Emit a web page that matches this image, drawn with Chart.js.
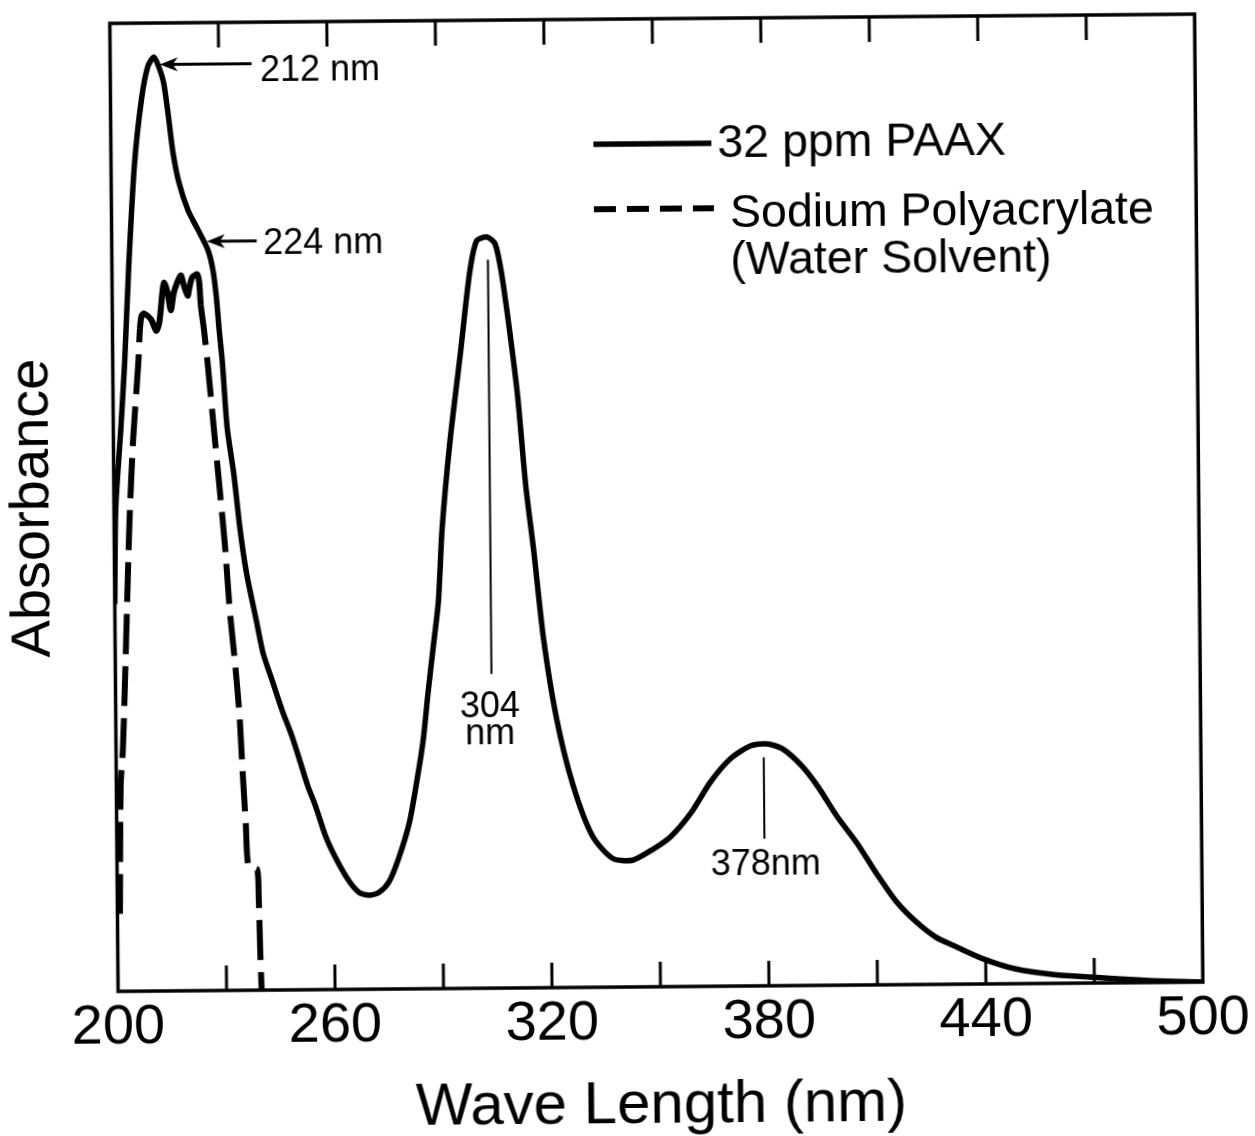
<!DOCTYPE html>
<html>
<head>
<meta charset="utf-8">
<script src="https://cdn.jsdelivr.net/npm/chart.js@4.4.1/dist/chart.umd.min.js"></script>
<style>
  html, body { margin: 0; padding: 0; background: #ffffff; overflow: hidden; }
  #wrap { width: 1255px; height: 1136px; transform: rotate(-0.49deg); transform-origin: 50% 50%; }
  canvas { display: block; }
</style>
</head>
<body>
<div id="wrap"><canvas id="c" width="1255" height="1136"></canvas></div>
<script>
// ---------------- data ----------------
const seriesNames = ['32 ppm PAAX', 'Sodium Polyacrylate', '(Water Solvent)'];

const paaxWavelength = [
  200.0, 200.5, 202.1, 203.3, 204.7, 206.5, 208.6, 210.4, 212.1, 213.3, 214.7, 215.9, 217.2, 218.8,
  221.2, 223.9, 226.6, 227.9, 228.8, 229.5, 230.3, 231.5, 233.2, 234.8, 236.5, 239.1, 240.9,
  243.5, 246.2, 248.5, 250.7, 252.9, 255.1, 257.8, 260.6, 264.1, 266.9, 269.6, 272.4, 275.2,
  277.9, 280.9, 282.9, 284.9, 286.4, 288.0, 289.5, 290.7, 293.1, 296.2, 298.9, 300.9, 303.7,
  306.0, 307.7, 309.8, 311.9, 313.9, 316.0, 318.5, 321.9, 326.3, 331.6, 337.1, 342.6, 348.2,
  353.2, 358.8, 364.3, 369.9, 375.4, 379.8, 384.2, 389.6, 393.9, 399.3, 404.8, 410.2, 415.4,
  420.8, 426.2, 431.7, 439.3, 448.0, 458.9, 469.9, 480.8, 491.7, 500.0
];
const paaxAbsorbance = [
  0.400, 0.500, 0.582, 0.650, 0.752, 0.855, 0.922, 0.955, 0.965, 0.956, 0.939, 0.906, 0.865, 0.834,
  0.806, 0.786, 0.765, 0.745, 0.717, 0.683, 0.650, 0.581, 0.534, 0.477, 0.431, 0.382, 0.348,
  0.318, 0.287, 0.264, 0.238, 0.211, 0.189, 0.158, 0.135, 0.112, 0.100, 0.097, 0.100, 0.111,
  0.135, 0.171, 0.210, 0.255, 0.305, 0.354, 0.400, 0.475, 0.566, 0.657, 0.739, 0.772, 0.776,
  0.769, 0.739, 0.680, 0.611, 0.520, 0.451, 0.360, 0.278, 0.209, 0.156, 0.133, 0.131, 0.142,
  0.155, 0.179, 0.211, 0.235, 0.248, 0.250, 0.245, 0.227, 0.206, 0.174, 0.146, 0.114, 0.086,
  0.065, 0.049, 0.039, 0.026, 0.0155, 0.009, 0.006, 0.003, 0.001, 0.000
];

const polyacrylateWavelength = [
  200.7, 201.2, 201.9, 202.7, 203.8, 204.4, 205.5, 207.1, 207.6, 208.1, 208.8, 210.7, 212.1,
  213.0, 213.9, 214.4, 215.3, 216.2, 217.1, 219.0, 219.9, 220.9, 221.3, 222.2, 223.6, 224.1,
  224.5, 225.3, 226.2, 227.8, 229.4, 230.6, 231.8, 233.0, 234.2, 234.9, 235.7, 236.4, 238.7,
  239.1, 239.4, 239.7
];
const polyacrylateAbsorbance = [
  0.080, 0.213, 0.250, 0.326, 0.441, 0.497, 0.572, 0.650, 0.684, 0.698, 0.700, 0.694, 0.682,
  0.691, 0.722, 0.732, 0.722, 0.703, 0.722, 0.739, 0.728, 0.718, 0.725, 0.737, 0.740, 0.732,
  0.708, 0.683, 0.650, 0.581, 0.513, 0.460, 0.392, 0.343, 0.286, 0.230, 0.173, 0.127, 0.125,
  0.098, 0.041, 0.000
];

const xTickLabels = [200, 260, 320, 380, 440, 500];
const xTickMarks = [230, 260, 290, 320, 350, 380, 410, 440, 470];

// wavelength range where the sodium polyacrylate trace is a continuous squiggle
const squiggleRange = [207.5, 224.6];

// peak annotations (wavelength, absorbance)
const arrowNotes = [
  { text: '212 nm', tip: [213.7, 0.957], tail: [239.1, 0.957], label: [241.4, 0.9386] },
  { text: '224 nm', tip: [226.3, 0.774], tail: [240.1, 0.774], label: [241.9, 0.760] }
];
const stemNotes = [
  { lines: ['304', 'nm'], x: 304.0, from: 0.7525, to: 0.3247, labelX: 303.5, baselines: [0.2798, 0.2516] },
  { lines: ['378nm'], x: 379.1, from: 0.236, to: 0.152, labelX: 379.4, baselines: [0.1145] }
];

// ---------------- chart ----------------
const FONT = "'Liberation Sans', Arial, sans-serif";

const decorPlugin = {
  id: 'decor',
  afterDatasetsDraw(chart) {
    const { ctx, chartArea: ca, scales: { x, y } } = chart;
    ctx.save();
    ctx.strokeStyle = '#000';
    ctx.fillStyle = '#000';
    ctx.lineCap = 'butt';

    // frame
    ctx.lineWidth = 3.5;
    ctx.strokeRect(ca.left, ca.top, ca.right - ca.left, ca.bottom - ca.top);

    // inward tick marks, top and bottom
    ctx.lineWidth = 3;
    for (const v of xTickMarks) {
      const px = x.getPixelForValue(v);
      ctx.beginPath();
      ctx.moveTo(px, ca.bottom); ctx.lineTo(px, ca.bottom - 25);
      ctx.moveTo(px, ca.top); ctx.lineTo(px, ca.top + 25);
      ctx.stroke();
    }

    // arrow annotations
    ctx.font = '36px ' + FONT;
    ctx.textBaseline = 'alphabetic';
    for (const n of arrowNotes) {
      const tx = x.getPixelForValue(n.tip[0]), ty = y.getPixelForValue(n.tip[1]);
      const ex = x.getPixelForValue(n.tail[0]), ey = y.getPixelForValue(n.tail[1]);
      ctx.lineWidth = 3;
      ctx.beginPath();
      ctx.moveTo(tx + 10, ty); ctx.lineTo(ex, ey);
      ctx.stroke();
      ctx.beginPath();
      ctx.moveTo(tx, ty);
      ctx.lineTo(tx + 18, ty - 7);
      ctx.lineTo(tx + 13, ty);
      ctx.lineTo(tx + 18, ty + 7);
      ctx.closePath();
      ctx.fill();
      ctx.textAlign = 'left';
      ctx.fillText(n.text, x.getPixelForValue(n.label[0]), y.getPixelForValue(n.label[1]));
    }

    // stem annotations
    for (const n of stemNotes) {
      const px = x.getPixelForValue(n.x);
      ctx.lineWidth = 2;
      ctx.beginPath();
      ctx.moveTo(px, y.getPixelForValue(n.from));
      ctx.lineTo(px, y.getPixelForValue(n.to));
      ctx.stroke();
      ctx.textAlign = 'center';
      const lx = x.getPixelForValue(n.labelX);
      n.lines.forEach((t, i) => ctx.fillText(t, lx, y.getPixelForValue(n.baselines[i])));
    }

    // legend
    const ds = chart.data.datasets;
    ctx.font = '46.5px ' + FONT;
    ctx.textAlign = 'left';
    ctx.lineWidth = ds[0].borderWidth;
    ctx.setLineDash([]);
    ctx.beginPath(); ctx.moveTo(597, 144); ctx.lineTo(715, 144); ctx.stroke();
    ctx.fillText(seriesNames[0], 721, 157.5);
    ctx.lineWidth = ds[1].borderWidth;
    ctx.setLineDash([22, 11]);
    ctx.beginPath(); ctx.moveTo(597, 209); ctx.lineTo(717, 209); ctx.stroke();
    ctx.setLineDash([]);
    ctx.fillText(seriesNames[1], 733, 228);
    ctx.fillText(seriesNames[2], 733, 275);

    ctx.restore();
  }
};

const toPoints = (xs, ys) => xs.map((v, i) => ({ x: v, y: ys[i] }));
const DASH = [40, 12];

new Chart(document.getElementById('c').getContext('2d'), {
  type: 'line',
  data: {
    datasets: [
      {
        label: seriesNames[0],
        data: toPoints(paaxWavelength, paaxAbsorbance),
        borderColor: '#000',
        borderWidth: 5.5,
        pointRadius: 0,
        tension: 0.25,
        fill: false
      },
      {
        label: seriesNames[1] + ' ' + seriesNames[2],
        data: toPoints(polyacrylateWavelength, polyacrylateAbsorbance),
        borderColor: '#000',
        borderWidth: 6,
        borderDash: DASH,
        segment: {
          borderDash: (c) => (c.p0.parsed.x >= squiggleRange[0] && c.p1.parsed.x <= squiggleRange[1]) ? [] : DASH
        },
        pointRadius: 0,
        tension: 0.25,
        fill: false
      }
    ]
  },
  options: {
    responsive: false,
    animation: false,
    devicePixelRatio: 1,
    layout: { padding: { left: 0, right: 55.5, top: 19, bottom: 0 } },
    plugins: { legend: { display: false }, tooltip: { enabled: false } },
    scales: {
      x: {
        type: 'linear',
        min: 200,
        max: 500,
        afterBuildTicks: (scale) => { scale.ticks = xTickLabels.map(v => ({ value: v })); },
        ticks: {
          color: '#000',
          font: { family: FONT, size: 56, lineHeight: 1.0 },
          padding: 9,
          maxRotation: 0,
          autoSkip: false
        },
        grid: { display: false, drawTicks: false },
        border: { display: false },
        title: {
          display: true,
          text: 'Wave Length (nm)',
          color: '#000',
          font: { family: FONT, size: 60, lineHeight: 1.0 },
          padding: { top: 15, bottom: 0 }
        }
      },
      y: {
        min: 0,
        max: 1,
        ticks: { display: false },
        grid: { display: false, drawTicks: false },
        border: { display: false },
        title: {
          display: true,
          text: 'Absorbance',
          color: '#000',
          font: { family: FONT, size: 56, lineHeight: 1.0 },
          padding: { top: 5.5, bottom: 53 }
        }
      }
    }
  },
  plugins: [decorPlugin]
});
</script>
</body>
</html>
